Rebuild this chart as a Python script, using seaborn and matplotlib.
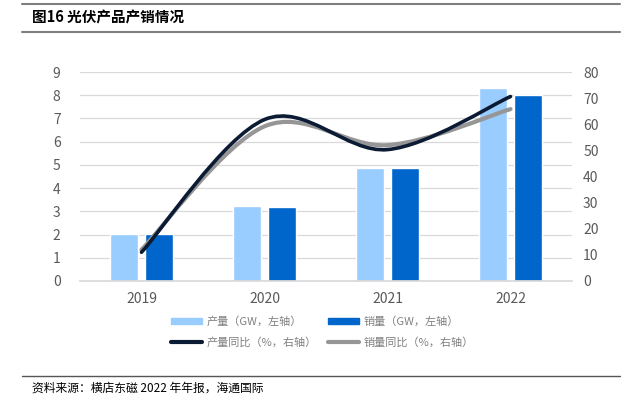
import matplotlib.pyplot as plt
import seaborn as sns
import pandas as pd
from matplotlib.path import Path
from matplotlib.patches import PathPatch
from matplotlib.lines import Line2D
from matplotlib.patches import Patch

# 数据
years = ["2019", "2020", "2021", "2022"]
output_gw = [2.03, 3.24, 4.88, 8.30]
sales_gw = [2.03, 3.20, 4.85, 8.01]
output_yoy = [11.0, 61.8, 50.3, 70.6]
sales_yoy = [12.0, 59.2, 52.0, 65.8]

c_light = "#99CCFF"
c_dark = "#0066CC"
c_navy = "#0B1B33"
c_gray = "#969696"

sns.set_theme(style="white")
plt.rcParams["font.family"] = ["Noto Sans CJK SC", "DejaVu Sans"]

df = pd.DataFrame({
    "year": years * 2,
    "value": output_gw + sales_gw,
    "kind": ["产量"] * 4 + ["销量"] * 4,
})

fig = plt.figure(figsize=(6.33, 4.07), dpi=100)
ax = fig.add_axes([80 / 633, 1 - 281 / 407, 492 / 633, 209 / 407])

sns.barplot(data=df, x="year", y="value", hue="kind", palette=[c_light, c_dark],
            width=0.568, gap=0.225, dodge=True, ax=ax, legend=False, saturation=1)
ax.set_xlim(-0.5, 3.5)
ax.set_ylim(0, 9)
ax.set_yticks(range(10))
ax.set_xlabel("")
ax.set_ylabel("")
ax.yaxis.grid(True, color="#D9D9D9", lw=0.9)
ax.set_axisbelow(True)
for s in ["top", "right", "left"]:
    ax.spines[s].set_visible(False)
ax.spines["bottom"].set_color("#D9D9D9")
ax.set_xticks([-0.5, 0.5, 1.5, 2.5, 3.5], minor=True)
ax.tick_params(axis="x", which="minor", length=4, color="#D9D9D9", width=0.9)
ax.tick_params(axis="x", which="major", length=0, pad=8, labelsize=10, labelcolor="#595959")
ax.tick_params(axis="y", length=0, pad=14, labelsize=10, labelcolor="#595959")

ax2 = ax.twinx()
ax2.set_ylim(0, 80)
ax2.set_yticks(range(0, 81, 10))
ax2.tick_params(axis="y", length=0, pad=8, labelsize=10, labelcolor="#595959")
for s in ax2.spines.values():
    s.set_visible(False)


def smooth_path(vals):
    # Excel-like smoothed line as cubic Bezier segments
    pts = list(enumerate(vals))
    n = len(pts)
    verts = [pts[0]]
    codes = [Path.MOVETO]
    for i in range(n - 1):
        p0 = pts[max(i - 1, 0)]
        p1 = pts[i]
        p2 = pts[i + 1]
        p3 = pts[min(i + 2, n - 1)]
        c1 = (p1[0] + (p2[0] - p0[0]) / 6, p1[1] + (p2[1] - p0[1]) / 6)
        c2 = (p2[0] - (p3[0] - p1[0]) / 6, p2[1] - (p3[1] - p1[1]) / 6)
        verts += [c1, c2, p2]
        codes += [Path.CURVE4] * 3
    return Path(verts, codes)


ax2.add_patch(PathPatch(smooth_path(sales_yoy), fill=False, ec=c_gray, lw=3, capstyle="round"))
ax2.add_patch(PathPatch(smooth_path(output_yoy), fill=False, ec=c_navy, lw=2.6, capstyle="round"))

# 图例（按列填充）
handles = [
    Patch(color=c_light, label="产量（GW，左轴）"),
    Line2D([], [], color=c_navy, lw=3, label="产量同比（%，右轴）"),
    Patch(color=c_dark, label="销量（GW，左轴）"),
    Line2D([], [], color=c_gray, lw=3, label="销量同比（%，右轴）"),
]
leg = fig.legend(handles=handles, ncol=2, loc="center", bbox_to_anchor=(322 / 633, 1 - 332 / 407),
                 frameon=False, fontsize=8, handlelength=2.8, handleheight=0.35,
                 columnspacing=1.0, labelspacing=0.9, handletextpad=0.4)
for t in leg.get_texts():
    t.set_color("#808080")

# 标题与来源
fig.text(32 / 633, 1 - 18 / 407, "图16 光伏产品产销情况", fontsize=10.5, fontweight="bold",
         va="center", ha="left", color="#000000")
fig.add_artist(Line2D([22 / 633, 620 / 633], [1 - 3.5 / 407] * 2, color="#7F7F7F", lw=1.5))
fig.add_artist(Line2D([22 / 633, 620 / 633], [1 - 31.5 / 407] * 2, color="#7F7F7F", lw=1.5))
fig.add_artist(Line2D([22 / 633, 620 / 633], [1 - 375.5 / 407] * 2, color="#555555", lw=1))
fig.text(32 / 633, 1 - 388 / 407, "资料来源：横店东磁 2022 年年报，海通国际", fontsize=8.5,
         va="center", ha="left", color="#000000")

fig.savefig("out.png", dpi=100)
